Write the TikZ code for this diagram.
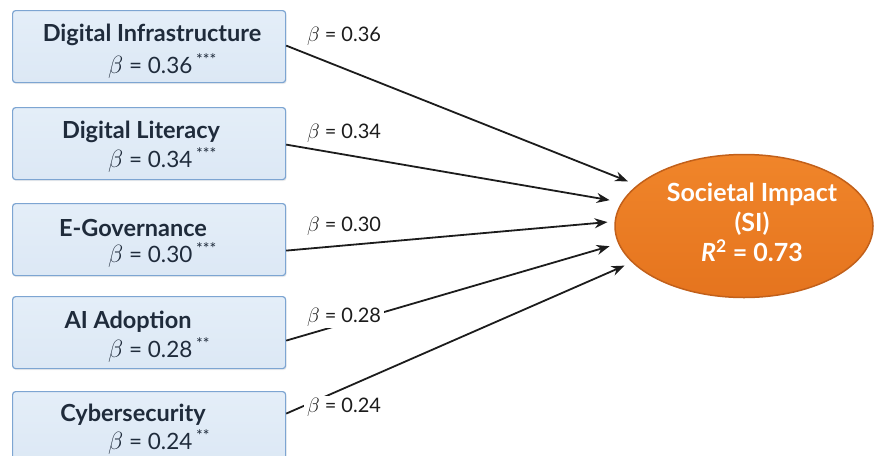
\documentclass[tikz,border=0pt]{standalone}
\usepackage{fontspec}
\setmainfont{Lato}
\usetikzlibrary{arrows.meta,shapes.geometric,calc,shadows}
\definecolor{boxfill}{HTML}{DCE8F5}
\definecolor{boxfilltop}{HTML}{E4EEF8}
\definecolor{boxdraw}{HTML}{7DA5D2}
\definecolor{boxtext}{HTML}{1F2B3B}
\definecolor{sitop}{HTML}{F0852A}
\definecolor{sibot}{HTML}{E5741E}
\definecolor{siedge}{HTML}{C2601A}
\definecolor{arrowcol}{HTML}{1C1C1C}
\newcommand{\bigbeta}{{\fontsize{23}{24}\selectfont$\beta$}}
\newcommand{\labbeta}{{\fontsize{21}{22}\selectfont$\beta$}}
\begin{document}
\begin{tikzpicture}[x=1pt,y=-1pt,
  factor/.style={draw=boxdraw, line width=1.2pt, top color=boxfilltop, bottom color=boxfill, rounded corners=3pt, minimum width=273pt, minimum height=72pt, anchor=north west, inner sep=0pt, drop shadow={opacity=0.15, shadow xshift=1pt, shadow yshift=-1.5pt}},
  ftitle/.style={font=\fontsize{23.5}{26}\selectfont\bfseries, text=boxtext, inner sep=0pt},
  coef/.style={font=\fontsize{22.5}{26}\selectfont, text=boxtext, inner sep=0pt, anchor=west},
  plabel/.style={font=\fontsize{20}{22}\selectfont, text=arrowcol, fill=white, inner xsep=3pt, inner ysep=2pt},
  effect/.style={draw=arrowcol, line width=1.8pt, -{Stealth[length=13pt,width=10pt]}},
]
\useasboundingbox (0,0) rectangle (874,455);
\clip (0,0) rectangle (874,455);

\node[factor] (b1) at (12,10) {};
\node[factor] (b2) at (12,107) {};
\node[factor] (b3) at (12,203) {};
\node[factor] (b4) at (12,296) {};
\node[factor] (b5) at (12,391) {};

\node[ftitle] (t1) at (152,35) {Digital Infrastructure};
\node[ftitle] (t2) at (141,132) {Digital Literacy};
\node[ftitle] (t3) at (133,228) {E-Governance};
\node[ftitle] (t4) at (128,322) {AI Adoption};
\node[ftitle] (t5) at (133,415) {Cybersecurity};

\node[coef] (c1) at (108,66) {\bigbeta{} = 0.36\,\textsuperscript{***}};
\node[coef] (c2) at (108,160) {\bigbeta{} = 0.34\,\textsuperscript{***}};
\node[coef] (c3) at (108,255) {\bigbeta{} = 0.30\,\textsuperscript{***}};
\node[coef] (c4) at (108,350) {\bigbeta{} = 0.28\,\textsuperscript{**}};
\node[coef] (c5) at (108,442) {\bigbeta{} = 0.24\,\textsuperscript{**}};

\node[ellipse, draw=siedge, line width=1.5pt, top color=sitop, bottom color=sibot, minimum width=258pt, minimum height=143pt, inner sep=0pt] (si) at (744,226) {};
\node[font=\fontsize{25}{30}\selectfont\bfseries, text=white, align=center, inner sep=0pt] (sit) at (752,222) {Societal Impact\\(SI)\\\textit{R}\textsuperscript{2} = 0.73};

\draw[effect, shorten >=10pt] ($(b1.east)+(0,-1)$) -- (si.159.8);
\draw[effect, shorten >=12pt] ($(b2.east)+(0,1)$) -- (si.169);
\draw[effect, shorten >=7pt] ($(b3.east)+(0,11)$) -- (si.178.7);
\draw[effect, shorten >=9pt] ($(b4.east)+(0,8)$) -- (si.188.1);
\draw[effect, shorten >=8pt] ($(b5.east)+(0,-14)$) -- (si.198.1);

\node[plabel] (l1) at (344,36) {\labbeta{} = 0.36};
\node[plabel] (l2) at (344,133) {\labbeta{} = 0.34};
\node[plabel] (l3) at (344,226) {\labbeta{} = 0.30};
\node[plabel] (l4) at (344,317) {\labbeta{} = 0.28};
\node[plabel] (l5) at (344,407) {\labbeta{} = 0.24};
\end{tikzpicture}
\end{document}
